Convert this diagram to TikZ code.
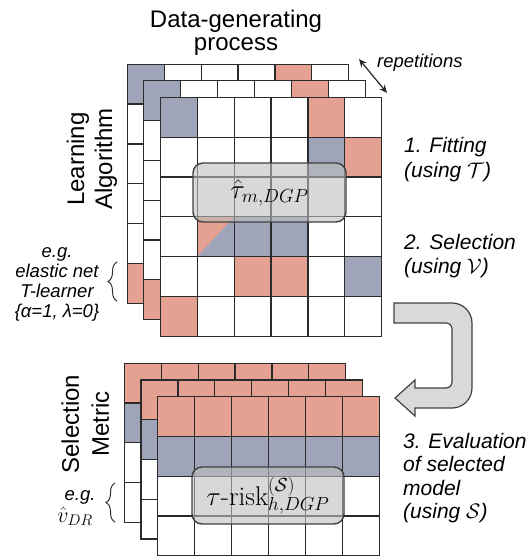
\RequirePackage{fix-cm}
\documentclass[tikz,border=0pt]{standalone}
\usepackage{fontspec}
\newfontfamily\arial{Liberation Sans}
\usetikzlibrary{arrows.meta,decorations.pathreplacing}
\definecolor{cred}{HTML}{E4A090}
\definecolor{cblue}{HTML}{A0A4B8}
\definecolor{gline}{HTML}{2A2A2A}
\def\cw{36.9}
\def\chT{39.8}
\def\chB{39.75}
\begin{document}
\begin{tikzpicture}[x=1pt,y=-1pt,
  cellline/.style={draw=gline, line width=1.2pt},
  resbox/.style={draw=black!75, line width=1.4pt, fill=black!25, fill opacity=0.6,
    draw opacity=1, text opacity=1, rounded corners=10pt, inner sep=0pt},
  bigarrow/.style={draw=black!75, line width=1.2pt, fill=black!15},
  bracestyle/.style={draw=black!80, line width=1pt, decorate,
    decoration={brace, amplitude=9pt}},
  bigsf/.style={font=\arial\fontsize{24}{#1}\selectfont, align=center, inner sep=0pt},
  stepsf/.style={font=\arial\itshape\fontsize{21}{#1}\selectfont, align=left, inner sep=0pt, anchor=west},
  smallit/.style={font=\arial\itshape\fontsize{18.5}{20}\selectfont, inner sep=0pt}
]
\useasboundingbox (0,0) rectangle (527,559);

% ---------- top grid (three layers) ----------
\foreach \ox/\oy in {127.3/64.3, 143.8/80.8, 160.3/97.3}{
  \begin{scope}[shift={(\ox,\oy)}]
    \fill[white] (0,0) rectangle (6*\cw,6*\chT);
    \foreach \r/\c in {0/4,1/5,4/2,4/3,5/0}
      \fill[cred] (\c*\cw,\r*\chT) rectangle ++(\cw,\chT);
    \foreach \r/\c in {0/0,1/4,3/1,3/2,3/3,4/5}
      \fill[cblue] (\c*\cw,\r*\chT) rectangle ++(\cw,\chT);
    \fill[cred] (\cw,3*\chT) -- (2*\cw,3*\chT) -- (\cw,4*\chT) -- cycle;
    \foreach \r in {0,...,5}
      \foreach \c in {0,...,5}
        \draw[cellline] (\c*\cw,\r*\chT) rectangle ++(\cw,\chT);
  \end{scope}
}
\node[resbox, minimum width=153pt, minimum height=59pt] (taubox) at (269.5,192.5)
  {\fontsize{27}{30}\selectfont$\hat{\tau}_{m,DGP}$};

% ---------- bottom grid (three layers) ----------
\foreach \ox/\oy in {124.3/363.3, 141/380, 157.7/396.7}{
  \begin{scope}[shift={(\ox,\oy)}]
    \fill[white] (0,0) rectangle (6*\cw,4*\chB);
    \fill[cred] (0,0) rectangle (6*\cw,\chB);
    \fill[cblue] (0,\chB) rectangle (6*\cw,2*\chB);
    \foreach \r in {0,...,3}
      \foreach \c in {0,...,5}
        \draw[cellline] (\c*\cw,\r*\chB) rectangle ++(\cw,\chB);
  \end{scope}
}
\node[resbox, minimum width=152pt, minimum height=57pt] (riskbox) at (268,495.5)
  {\fontsize{27}{30}\selectfont$\tau\mbox{-risk}^{(\mathcal{S})}_{h,DGP}$};

% ---------- U-turn arrow ----------
\draw[bigarrow] (394,303) -- (452,303) arc[start angle=-90,end angle=0,radius=20]
  -- (472,388) arc[start angle=0,end angle=90,radius=20]
  -- (415,408) -- (415,416) -- (395,398) -- (415,380) -- (415,388)
  -- (446,388) arc[start angle=90,end angle=0,radius=6]
  -- (452,329) arc[start angle=0,end angle=-90,radius=6]
  -- (394,323) -- cycle;

% ---------- repetitions arrow ----------
\coordinate (repA) at (359,59);
\coordinate (repB) at (387,93);
\draw[line width=1.2pt, black!85, {Stealth[length=8pt,width=7pt]}-{Stealth[length=8pt,width=7pt]}] (repA) -- (repB);
\node[smallit, anchor=base west] (rep) at (377,68) {repetitions};

% ---------- texts ----------
\node[bigsf=23] (title) at (236,33) {Data-generating\\process};
\node[bigsf=28, rotate=90] (learn) at (92,159) {Learning\\Algorithm};
\node[bigsf=30, rotate=90] (selmet) at (85.4,424) {Selection\\Metric};

\node[stepsf=25] (fit) at (404,160) {1. Fitting\\(using $\mathcal{T}$)};
\node[stepsf=24] (sel) at (404,256) {2. Selection\\(using $\mathcal{V}$)};
\node[stepsf=23.3] (eval) at (403,478) {3. Evaluation\\of selected\\model\\(using $\mathcal{S}$)};

\node[smallit, align=center] (egA) at (57,284) {e.g.\\elastic net\\T-learner\\\{α=1, λ=0\}};
\node[smallit, anchor=base] (egB) at (80,500) {e.g.};
\node[font=\fontsize{22}{24}\selectfont, inner sep=0pt, anchor=base] (vdr) at (75,522) {$\hat{v}_{DR}$};

% ---------- braces ----------
\coordinate (brAtop) at (117,262);
\coordinate (brAbot) at (117,301);
\draw[bracestyle] (brAbot) -- (brAtop);
\coordinate (brBtop) at (115,483);
\coordinate (brBbot) at (115,522);
\draw[bracestyle] (brBbot) -- (brBtop);
\end{tikzpicture}
\end{document}
